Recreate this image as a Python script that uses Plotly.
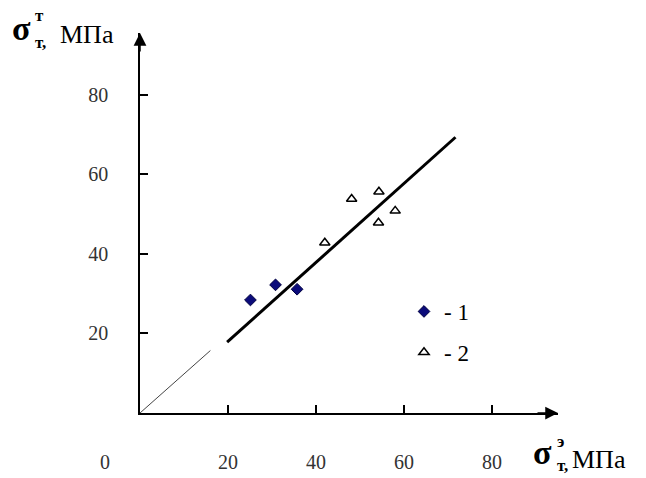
import plotly.graph_objects as go

# ---- data ----
s1_x = [25.1, 30.8, 35.7]
s1_y = [28.4, 32.2, 31.1]
s2_x = [48.1, 54.3, 58.0, 54.2, 42.0]
s2_y = [53.8, 55.6, 50.8, 47.8, 42.8]
fit_x = [19.8, 71.7]
fit_y = [17.8, 69.3]
ideal_x = [0, 16]
ideal_y = [0, 15.7]
tick_vals = [20, 40, 60, 80]
tick_text = ["20", "40", "60", "80"]
x_max = 95.0
y_max = 95.5

W, H = 646, 478
ML, MR, MT, MB = 140, 88, 33, 65
PW, PH = W - ML - MR, H - MT - MB


def pp(xp, yp):
    return (xp - ML) / PW, (H - MB - yp) / PH


SERIF = "Liberation Serif, Times New Roman, serif"

fig = go.Figure()
fig.add_trace(go.Scatter(x=ideal_x, y=ideal_y, mode="lines",
                         line=dict(color="#444", width=1), showlegend=False,
                         hoverinfo="skip"))
fig.add_trace(go.Scatter(x=fit_x, y=fit_y, mode="lines",
                         line=dict(color="black", width=3), showlegend=False,
                         hoverinfo="skip"))
fig.add_trace(go.Scatter(x=s1_x, y=s1_y, mode="markers", name="- 1",
                         legendgroup="a",
                         marker=dict(symbol="diamond", size=9, color="#0b0b7a",
                                     line=dict(color="#000040", width=1))))
fig.add_trace(go.Scatter(x=s2_x, y=s2_y, mode="markers", name="- 2",
                         legendgroup="b",
                         marker=dict(symbol="triangle-up", size=9, color="white",
                                     line=dict(color="black", width=1.5))))

axis_common = dict(showgrid=False, zeroline=False, showline=True,
                   linecolor="black", linewidth=1.5, ticks="inside",
                   ticklen=8, tickwidth=1.5, tickcolor="black",
                   tickvals=tick_vals, ticktext=tick_text, automargin=False,
                   tickfont=dict(family=SERIF, size=20, color="#333"))

fig.update_layout(
    width=W, height=H,
    margin=dict(l=ML, r=MR, t=MT, b=MB, autoexpand=False),
    paper_bgcolor="white", plot_bgcolor="white",
    xaxis=dict(range=[0, x_max], ticklabelstandoff=30, **axis_common),
    yaxis=dict(range=[0, y_max], ticklabelstandoff=26, **axis_common),
    showlegend=True,
    legend=dict(x=pp(404, 0)[0], y=pp(0, 290)[1], xanchor="left", yanchor="top",
                bgcolor="rgba(0,0,0,0)", tracegroupgap=8,
                font=dict(family=SERIF, size=23, color="black")),
)

ann = []
# arrows at the ends of the axes
ann.append(dict(x=x_max, y=0, ax=x_max - 5, ay=0, xref="x", yref="y",
                axref="x", ayref="y", showarrow=True, arrowhead=2,
                arrowsize=1.7, arrowwidth=1.5, arrowcolor="black", text=""))
ann.append(dict(x=0, y=y_max, ax=0, ay=y_max - 5, xref="x", yref="y",
                axref="x", ayref="y", showarrow=True, arrowhead=2,
                arrowsize=1.7, arrowwidth=1.5, arrowcolor="black", text=""))


def txt(s, xp, yp, size, bold=False, xanchor="left"):
    x, y = pp(xp, yp)
    ann.append(dict(x=x, y=y, xref="paper", yref="paper", text=s,
                    showarrow=False, xanchor=xanchor, yanchor="middle",
                    font=dict(family=SERIF, size=size, color="black",
                              weight="bold" if bold else "normal")))


# origin label
txt("0", 105, 462, 20, xanchor="center")
ann[-1]["font"]["color"] = "#333"

# y axis title
txt("σ", 10, 29, 34, bold=True)
txt("т", 33, 15, 17, bold=True)
txt("т,", 33, 43, 17, bold=True)
txt("МПа", 58, 34, 26)

# x axis title
txt("σ", 531, 452, 34, bold=True)
txt("э", 555, 442, 17, bold=True)
txt("т,", 555, 466, 17, bold=True)
txt("МПа", 570, 459, 26)

fig.update_layout(annotations=ann)
fig.write_html("out.html")
